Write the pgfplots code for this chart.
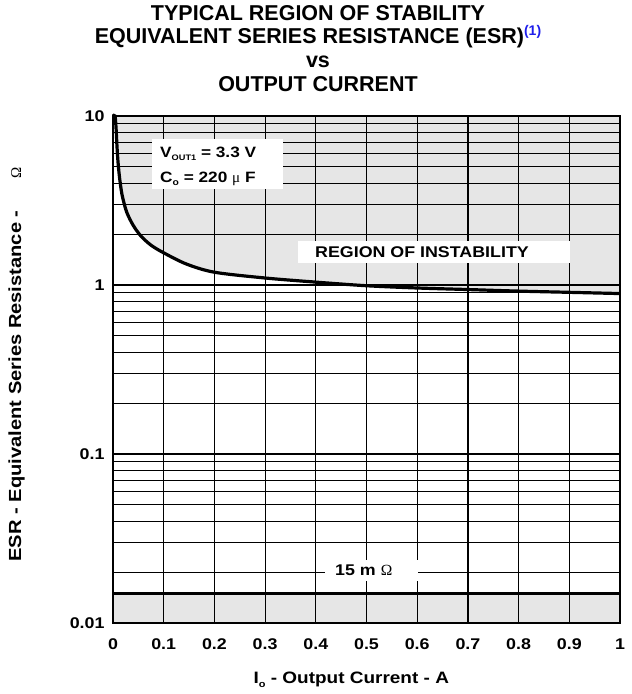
\documentclass[border=0pt]{standalone}
\usepackage{pgfplots}
\usepackage{pgfplotstable}
\pgfplotsset{compat=1.18}
\usepackage{fontspec}
\setmainfont{Liberation Sans}
\newfontfamily\wf[FakeStretch=1.15]{Liberation Sans}
\newfontfamily\serif{Liberation Serif}
\definecolor{regiongray}{RGB}{230,230,230}
\definecolor{refblue}{RGB}{30,30,235}

\pgfplotstableread{
x y
0.000 10
0.004 10
0.006 8.5
0.008 6.5
0.010 5.3
0.013 4.3
0.018 3.4
0.027 2.7
0.040 2.25
0.055 1.95
0.075 1.72
0.100 1.55
0.145 1.33
0.200 1.19
0.300 1.10
0.400 1.04
0.500 0.99
0.600 0.96
0.700 0.94
0.800 0.92
0.900 0.905
1.000 0.89
}\curvedata

\pgfplotstableread{
x y
0.000 10
0.004 10
0.006 8.5
0.008 6.5
0.010 5.3
0.013 4.3
0.018 3.4
0.027 2.7
0.040 2.25
0.055 1.95
0.075 1.72
0.100 1.55
0.145 1.33
0.200 1.19
0.300 1.10
0.400 1.04
0.500 0.99
0.600 0.96
0.700 0.94
0.800 0.92
0.900 0.905
1.000 0.89
1.000 10
}\filldata

\begin{document}
\begin{tikzpicture}
\begin{axis}[
  set layers, axis on top,
  at={(0,0)}, anchor=south west,
  scale only axis, width=507bp, height=507bp,
  xmin=0, xmax=1, ymin=0.01, ymax=10, ymode=log,
  xtick={0,0.1,0.2,0.3,0.4,0.5,0.6,0.7,0.8,0.9,1},
  xticklabels={0,0.1,0.2,0.3,0.4,0.5,0.6,0.7,0.8,0.9,1},
  ytick={0.01,0.1,1,10},
  yticklabels={0.01,0.1,1,10},
  minor ytick={0.02,0.03,0.04,0.05,0.06,0.07,0.08,0.09,0.2,0.3,0.4,0.5,0.6,0.7,0.8,0.9,2,3,4,5,6,7,8,9},
  grid=both,
  major grid style={black, line width=1.2bp},
  minor grid style={black, line width=1bp},
  major tick length=0pt, minor tick length=0pt,
  axis line style={line width=2.6bp},
  tick label style={font=\wf\fontsize{15.5bp}{18bp}\selectfont\bfseries},
  xticklabel style={yshift=-12bp},
  yticklabel style={xshift=-5bp},
  label style={font=\wf\fontsize{16.5bp}{19bp}\selectfont\bfseries},
  xlabel={I\raisebox{-3.5bp}{\fontsize{9.5bp}{10bp}\selectfont o} - Output Current - A},
  ylabel={\fontsize{17.5bp}{20bp}\selectfont ESR - Equivalent Series Resistance -\hspace{32bp}{\serif\mdseries\fontsize{15bp}{18bp}\selectfont Ω}},
  xlabel style={at={(axis description cs:0.47,-0.112)}, anchor=center},
  ylabel style={at={(axis description cs:-0.19,0.51)}, anchor=center},
]
\addplot[fill=regiongray, draw=none] table[x=x,y=y] {\filldata};
\addplot[fill=regiongray, draw=none] coordinates {(0,0.01) (1,0.01) (1,0.015) (0,0.015)};
\addplot[black, line width=3.2bp, smooth, on layer=axis foreground] table[x=x,y=y] {\curvedata};
\addplot[black, line width=3.2bp, on layer=axis foreground] coordinates {(0,0.015) (1,0.015)};
\end{axis}
% title
\node[anchor=base, font=\fontsize{21.5bp}{24bp}\selectfont\bfseries] at (205bp,602bp) {TYPICAL REGION OF STABILITY};
\node[anchor=base, font=\fontsize{21.5bp}{24bp}\selectfont\bfseries] at (205bp,579bp) {EQUIVALENT SERIES RESISTANCE (ESR)\raisebox{8bp}{\fontsize{14bp}{16bp}\selectfont\color{refblue}(1)}};
\node[anchor=base, font=\fontsize{21.5bp}{24bp}\selectfont\bfseries] at (205bp,555bp) {vs};
\node[anchor=base, font=\fontsize{21.5bp}{24bp}\selectfont\bfseries] at (205bp,531bp) {OUTPUT CURRENT};
% annotation boxes
\begin{pgfonlayer}{axis foreground}
\fill[white] (39bp,434bp) rectangle (170bp,484bp);
\node[anchor=base west, inner sep=0pt, font=\wf\fontsize{15bp}{18bp}\selectfont\bfseries] at (47bp,465bp) {V\raisebox{-3bp}{\fontsize{8bp}{9bp}\selectfont OUT1} = 3.3 V};
\node[anchor=base west, inner sep=0pt, font=\wf\fontsize{15bp}{18bp}\selectfont\bfseries] at (47bp,440bp) {C\raisebox{-3bp}{\fontsize{9bp}{10bp}\selectfont o} = 220 {\serif\mdseries μ} F};
\fill[white] (185bp,360bp) rectangle (457bp,382bp);
\node[anchor=base west, inner sep=0pt, font=\wf\fontsize{15.5bp}{18bp}\selectfont\bfseries] at (202bp,365bp) {REGION OF INSTABILITY};
\fill[white] (212bp,42bp) rectangle (305bp,63bp);
\node[anchor=base west, inner sep=0pt, font=\wf\fontsize{15.5bp}{18bp}\selectfont\bfseries] at (222bp,47bp) {15 m {\serif\mdseries Ω}};
\end{pgfonlayer}
\pgfresetboundingbox
\path[use as bounding box] (-113bp,-71bp) rectangle (519bp,623bp);
\end{tikzpicture}
\end{document}
